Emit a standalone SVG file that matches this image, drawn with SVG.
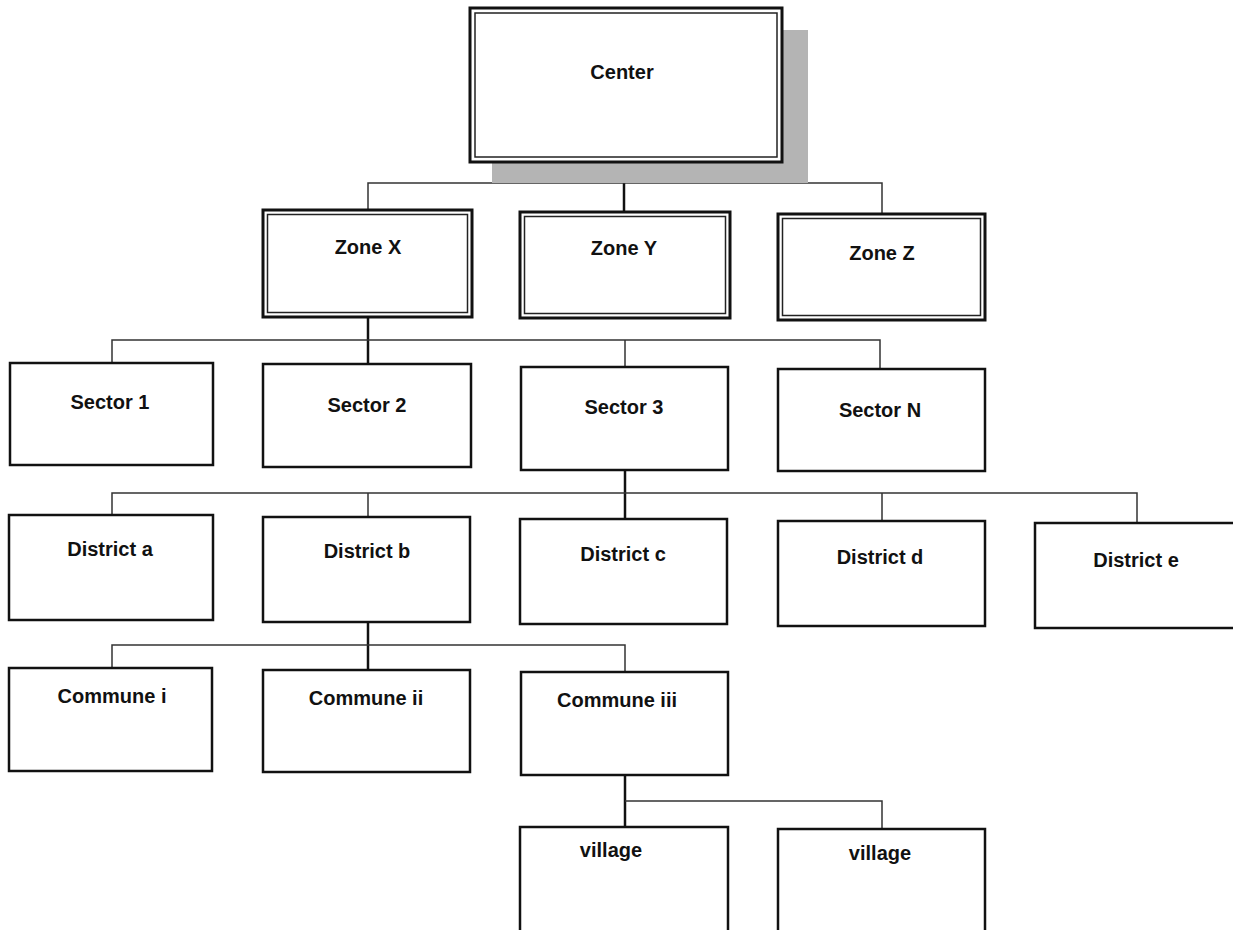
<svg xmlns="http://www.w3.org/2000/svg" width="1233" height="930" viewBox="0 0 1233 930">
<style>
.box{fill:#fff;stroke:#111;stroke-width:2.5}
.outer{fill:#fff;stroke:#111;stroke-width:3}
.inner{fill:none;stroke:#222;stroke-width:1.5}
.lbl{font-family:"Liberation Sans",Arial,sans-serif;font-weight:bold;font-size:20px;fill:#111;text-anchor:middle}
.bus{fill:none;stroke:#333;stroke-width:1.5}
.stem{fill:none;stroke:#111;stroke-width:2.5}
</style>
<rect width="1233" height="930" fill="#fff"/>
<g id="connectors">
<path class="stem" d="M624 162V212"/>
<path class="bus" d="M368 210V183H882V214"/>
<path class="stem" d="M368 317V364"/>
<path class="bus" d="M112 363V340H880V369M625 340V367"/>
<path class="stem" d="M625 470V519"/>
<path class="bus" d="M112 515V493H1137V523M368 493V517M882 493V521"/>
<path class="stem" d="M368 622V670"/>
<path class="bus" d="M112 668V645H625V672"/>
<path class="stem" d="M625 775V827"/>
<path class="bus" d="M625 801H882V829"/>
</g>
<g id="center">
<rect x="492" y="30" width="316" height="153" fill="#b4b4b4"/>
<rect class="outer" x="470" y="8" width="312" height="154"/>
<rect class="inner" x="475" y="13" width="302" height="144"/>
<text class="lbl" x="622" y="79">Center</text>
</g>
<g id="zoneX">
<rect class="outer" x="263" y="210" width="209" height="107"/>
<rect class="inner" x="267.5" y="214.5" width="200" height="98"/>
<text class="lbl" x="368" y="254">Zone X</text>
</g>
<g id="zoneY">
<rect class="outer" x="520" y="212" width="210" height="106"/>
<rect class="inner" x="524.5" y="216.5" width="201" height="97"/>
<text class="lbl" x="624" y="255">Zone Y</text>
</g>
<g id="zoneZ">
<rect class="outer" x="778" y="214" width="207" height="106"/>
<rect class="inner" x="782.5" y="218.5" width="198" height="97"/>
<text class="lbl" x="882" y="260">Zone Z</text>
</g>
<g id="sector1"><rect class="box" x="10" y="363" width="203" height="102"/><text class="lbl" x="110" y="409">Sector 1</text></g>
<g id="sector2"><rect class="box" x="263" y="364" width="208" height="103"/><text class="lbl" x="367" y="412">Sector 2</text></g>
<g id="sector3"><rect class="box" x="521" y="367" width="207" height="103"/><text class="lbl" x="624" y="414">Sector 3</text></g>
<g id="sectorN"><rect class="box" x="778" y="369" width="207" height="102"/><text class="lbl" x="880" y="417">Sector N</text></g>
<g id="districtA"><rect class="box" x="9" y="515" width="204" height="105"/><text class="lbl" x="110" y="556">District a</text></g>
<g id="districtB"><rect class="box" x="263" y="517" width="207" height="105"/><text class="lbl" x="367" y="558">District b</text></g>
<g id="districtC"><rect class="box" x="520" y="519" width="207" height="105"/><text class="lbl" x="623" y="561">District c</text></g>
<g id="districtD"><rect class="box" x="778" y="521" width="207" height="105"/><text class="lbl" x="880" y="564">District d</text></g>
<g id="districtE"><rect class="box" x="1035" y="523" width="210" height="105"/><text class="lbl" x="1136" y="567">District e</text></g>
<g id="communeI"><rect class="box" x="9" y="668" width="203" height="103"/><text class="lbl" x="112" y="703">Commune i</text></g>
<g id="communeII"><rect class="box" x="263" y="670" width="207" height="102"/><text class="lbl" x="366" y="705">Commune ii</text></g>
<g id="communeIII"><rect class="box" x="521" y="672" width="207" height="103"/><text class="lbl" x="617" y="707">Commune iii</text></g>
<g id="village1"><rect class="box" x="520" y="827" width="208" height="110"/><text class="lbl" x="611" y="857">village</text></g>
<g id="village2"><rect class="box" x="778" y="829" width="207" height="110"/><text class="lbl" x="880" y="860">village</text></g>
</svg>
